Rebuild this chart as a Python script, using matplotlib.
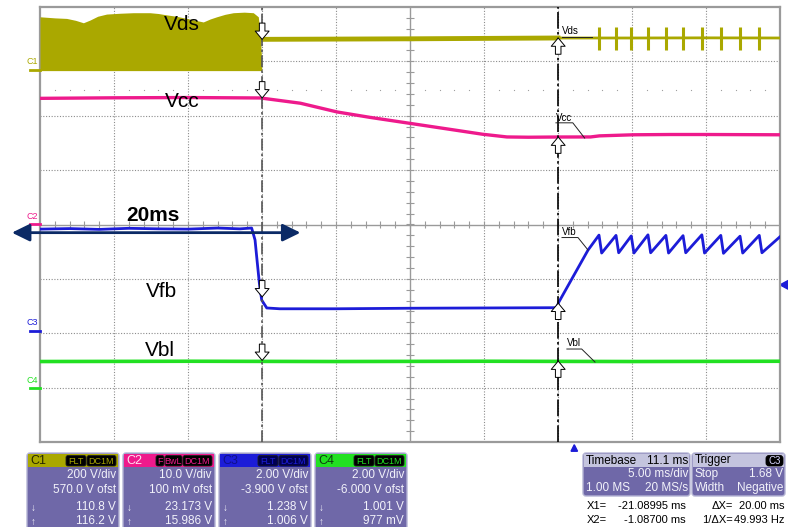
import numpy as np
import matplotlib
matplotlib.use('Agg')
import matplotlib.pyplot as plt
from matplotlib.patches import FancyBboxPatch, Rectangle, Polygon

plt.rcParams['font.family'] = ['Liberation Sans', 'DejaVu Sans']

# channel settings: V/div and offset (screen div = (V + ofst) / scale)
names = ['C1', 'C2', 'C3', 'C4']
scale = [200.0, 10.0, 2.0, 2.0]
ofst = [570.0, 0.1, -3.9, -6.0]
colors = ['#aaa800', '#ee1a8c', '#1c1cd8', '#22e022']

# timebase: 5 ms/div, 10 div, delay 11.1 ms
t_trig = 25 + 11.1
x1_rel = -21.08995
x2_rel = -1.08700
trig_level = 1.68

# Vds (C1) switching band before turn-off: top envelope [V]
vds_sw_t = [0, 1.0, 1.8, 2.4, 2.93, 3.38, 3.9, 4.5, 5.4, 6.3, 7.43, 8.0, 8.56, 9.2, 9.91, 10.5,
            11.03, 11.5, 11.94, 12.5, 13.06, 13.8, 14.41, 14.75, 14.91, 14.98]
vds_sw_top = [194, 190, 188, 181, 172, 182, 196, 204, 207, 209, 209, 206, 201, 196, 188, 181,
              175, 186, 194, 203, 209, 211, 209, 194, 108, 23]
vds_sw_bot = -4
# Vds after turn-off
vds_on_t = [14.7, 20, 25, 30, 35]
vds_on_v = [111, 112, 113, 114.5, 116]
vds_off_t = [35, 40, 45, 50]
vds_off_v = [116, 116, 116.5, 116]
spike_t = [37.77, 38.92, 39.95, 41.08, 42.29, 43.45, 44.72, 46.0, 47.30, 48.6]
spike_lo, spike_hi = 72, 156

# Vcc (C2)
vcc_t = [0, 5, 10, 14.9, 17.6, 20.07, 22.3, 25, 27.7, 29.9, 31.55, 33, 35, 37.2, 37.8, 40.1, 42.6, 45, 50]
vcc_v = [23.1, 23.2, 23.25, 23.17, 22.2, 20.6, 19.6, 18.5, 17.4, 16.5, 16.0, 15.95, 15.99, 16.0, 16.2, 16.4, 16.45, 16.45, 16.4]

# Vfb (C3)
vfb_t = [0, 2, 4, 6, 8, 10, 12, 13.5, 14.3, 14.53, 14.64, 14.82, 14.98, 15.32, 16.2, 20, 25, 30, 34.9,
         35.07, 37.03, 37.77, 37.95, 38.92, 39.1, 39.95, 40.13, 41.08, 41.26, 42.29, 42.47, 43.45, 43.63,
         44.72, 44.9, 46.0, 46.18, 47.3, 47.48, 48.6, 48.78, 50]
vfb_v = [3.73, 3.75, 3.72, 3.76, 3.74, 3.73, 3.77, 3.74, 3.77, 3.33, 2.72, 1.75, 1.12, 0.83, 0.80, 0.80, 0.82, 0.83, 0.84,
         1.06, 2.96, 3.51, 2.85, 3.50, 2.86, 3.48, 2.85, 3.52, 2.86, 3.50, 2.85, 3.49, 2.86,
         3.52, 2.85, 3.50, 2.84, 3.47, 2.85, 3.50, 2.86, 3.45]

# Vbl (C4)
vbl_t = [0, 10, 20, 30, 40, 50]
vbl_v = [0.96, 0.97, 0.96, 0.97, 0.96, 0.97]

# cursor readouts
cur1 = [110.8, 23.173, 1.238, 1.001]
cur2 = [116.2, 15.986, 1.006, 0.977]
cur1_txt = ['110.8 V', '23.173 V', '1.238 V', '1.001 V']
cur2_txt = ['116.2 V', '15.986 V', '1.006 V', '977 mV']
vdiv_txt = ['200 V/div', '10.0 V/div', '2.00 V/div', '2.00 V/div']
ofst_txt = ['570.0 V ofst', '100 mV ofst', '-3.900 V ofst', '-6.000 V ofst']
tags = [['FLT', 'DC1M'], ['F', 'BwL', 'DC1M'], ['FLT', 'DC1M'], ['FLT', 'DC1M']]


def div(i, v):
    return (np.asarray(v, dtype=float) + ofst[i]) / scale[i]


fig = plt.figure(figsize=(7.88, 5.27), dpi=100)
ax = fig.add_axes([40 / 788, 85 / 527, 740 / 788, 435 / 527])
ax.set_xlim(0, 50)
ax.set_ylim(-4, 4)
ax.set_xticks([])
ax.set_yticks([])
for s in ax.spines.values():
    s.set_color('#9a9a9a')
    s.set_linewidth(1.6)

# graticule
gc = '#8c8c8c'
for gx in range(5, 50, 5):
    if gx != 25:
        ax.axvline(gx, color=gc, lw=0.8, ls=(0, (1, 1.5)), zorder=1)
for gy in range(-3, 4):
    if gy != 0:
        ax.axhline(gy, color=gc, lw=0.8, ls=(0, (1, 1.5)), zorder=1)
ax.axhline(0, color='#9a9a9a', lw=1.0, zorder=1)
ax.axvline(25, color='#9a9a9a', lw=1.0, zorder=1)
ax.vlines(np.arange(1, 50), -0.06, 0.06, color='#9a9a9a', lw=0.8, zorder=1)
ax.hlines(np.arange(-3.8, 4, 0.2), 24.7, 25.3, color='#9a9a9a', lw=0.8, zorder=1)
dot_t = [t for t in range(1, 50) if t % 5]
ax.plot(dot_t, [2.48] * len(dot_t), ls='none', marker='s', ms=0.8, mew=0, color='#a0a0a0', zorder=1)

# traces
ax.fill_between(vds_sw_t, div(0, vds_sw_bot), div(0, vds_sw_top), color=colors[0], lw=0, zorder=3)
ax.plot(vds_on_t, div(0, vds_on_v), color=colors[0], lw=3.5, zorder=3)
ax.plot(vds_off_t, div(0, vds_off_v), color=colors[0], lw=2.0, zorder=3)
ax.vlines(spike_t, div(0, spike_lo), div(0, spike_hi), color=colors[0], lw=2.2, zorder=3)
ax.plot(vcc_t, div(1, vcc_v), color=colors[1], lw=2.4, zorder=3)
ax.plot(vfb_t, div(2, vfb_v), color=colors[2], lw=2.0, zorder=3)
ax.plot(vbl_t, div(3, vbl_v), color=colors[3], lw=2.6, zorder=3)

# cursors
x1 = t_trig + x1_rel
x2 = t_trig + x2_rel
ax.axvline(x1, color='#555555', lw=1.2, ls=(0, (7, 2, 1.5, 2)), zorder=4)
ax.axvline(x2, color='black', lw=1.2, ls=(0, (10, 2, 1.5, 2)), zorder=4)
astyle = 'simple,head_length=0.6,head_width=1.0,tail_width=0.4'
for i in range(4):
    y1 = float(div(i, cur1[i]))
    ax.annotate('', xy=(x1, y1), xytext=(x1, y1 + 0.3),
                arrowprops=dict(arrowstyle=astyle, fc='white', ec='black', lw=0.7,
                                mutation_scale=10, shrinkA=0, shrinkB=0), zorder=6)
    y2 = float(div(i, cur2[i]))
    ax.annotate('', xy=(x2, y2), xytext=(x2, y2 - 0.3),
                arrowprops=dict(arrowstyle=astyle, fc='white', ec='black', lw=0.7,
                                mutation_scale=10, shrinkA=0, shrinkB=0), zorder=6)

# small cursor labels with leaders
small = [('Vds', 35.27, 3.55, 36.4, 3.45, 37.3, 3.45),
         ('Vcc', 34.86, 1.96, 36.0, 1.87, 36.8, 1.59),
         ('Vfb', 35.27, -0.14, 36.35, -0.24, 37.03, -0.47),
         ('Vbl', 35.6, -2.18, 36.6, -2.29, 37.5, -2.53)]
for lab, tx, ty, ux, uy, lx, ly in small:
    ax.text(tx, ty, lab, fontsize=7, ha='left', va='center', zorder=7)
    ax.plot([tx, ux, lx], [uy, uy, ly], color='#222222', lw=0.7, zorder=7)

# big labels
ax.text(9.6, 3.67, 'Vds', fontsize=15, ha='center', va='center', zorder=7)
ax.text(9.6, 2.26, 'Vcc', fontsize=15, ha='center', va='center', zorder=7)
ax.text(7.64, 0.16, '20ms', fontsize=15, fontweight='bold', ha='center', va='center', zorder=7)
ax.text(8.18, -1.24, 'Vfb', fontsize=15, ha='center', va='center', zorder=7)
ax.text(8.1, -2.31, 'Vbl', fontsize=15, ha='center', va='center', zorder=7)
ax.annotate('', xy=(-1.9, -0.15), xytext=(17.6, -0.15), annotation_clip=False,
            arrowprops=dict(arrowstyle='<|-|>,head_length=0.45,head_width=0.22', color='#0b2a66',
                            lw=2, mutation_scale=24, shrinkA=0, shrinkB=0, clip_on=False), zorder=8)

# channel ground markers
for i in range(4):
    g = ofst[i] / scale[i]
    ax.plot([-0.68, 0], [g, g], color=colors[i], lw=2, clip_on=False, zorder=5)
    ax.text(-0.55, g + 0.14, names[i], fontsize=6.5, color=colors[i], ha='center', va='center')

# trigger markers
tl = (trig_level + ofst[2]) / scale[2]
ax.add_patch(Polygon([[50, tl], [50.55, tl + 0.08], [50.55, tl - 0.08]], closed=True,
                     color=colors[2], clip_on=False))
ax.add_patch(Polygon([[t_trig, -4.05], [t_trig - 0.22, -4.17], [t_trig + 0.22, -4.17]], closed=True,
                     color=colors[2], clip_on=False))

# readout panels (pixel coordinates)
ov = fig.add_axes([0, 0, 1, 1], zorder=10)
ov.set_xlim(0, 788)
ov.set_ylim(527, 0)
ov.axis('off')
ov.patch.set_alpha(0)
purple = '#6f68a8'
txtc = '#f2f2fa'
tag_w = {'FLT': 21, 'DC1M': 30, 'F': 9, 'BwL': 18}
head_txt = ['#262600', '#ffe0f0', '#10108a', '#0e3a0e']
tag_bg = ['black', 'black', '#000050', 'black']
px0 = [27, 123, 219, 315]
for i in range(4):
    x0 = px0[i]
    ov.add_patch(FancyBboxPatch((x0, 453), 92, 80, boxstyle='round,pad=0,rounding_size=3',
                                fc=purple, ec='#b4b4d4', lw=1))
    ov.add_patch(Rectangle((x0 + 1, 454), 90, 13, fc=colors[i], ec='none'))
    ov.text(x0 + 3, 461, names[i], fontsize=9, color=head_txt[i], va='center', ha='left')
    xr = x0 + 90
    for tg in reversed(tags[i]):
        w = tag_w[tg]
        ov.add_patch(FancyBboxPatch((xr - w, 455.5), w - 1, 10.5,
                                    boxstyle='round,pad=0,rounding_size=2',
                                    fc=tag_bg[i], ec='#202020', lw=0.6))
        ov.text(xr - w / 2 - 0.5, 461, tg, fontsize=6.5, color=colors[i], ha='center', va='center')
        xr -= w
    ov.text(x0 + 89, 475, vdiv_txt[i], fontsize=8.5, color=txtc, ha='right', va='center')
    ov.text(x0 + 89, 490, ofst_txt[i], fontsize=8.5, color=txtc, ha='right', va='center')
    ov.text(x0 + 89, 507, cur1_txt[i], fontsize=8.5, color=txtc, ha='right', va='center')
    ov.text(x0 + 89, 521, cur2_txt[i], fontsize=8.5, color=txtc, ha='right', va='center')
    ov.text(x0 + 4, 508, '\u2193', fontsize=7, color=txtc, ha='left', va='center')
    ov.text(x0 + 4, 522, '\u2191', fontsize=7, color=txtc, ha='left', va='center')

# timebase / trigger boxes
for x0, w in [(583, 107), (692, 93)]:
    ov.add_patch(FancyBboxPatch((x0, 453), w, 43, boxstyle='round,pad=0,rounding_size=3',
                                fc=purple, ec='#b4b4d4', lw=1))
    ov.add_patch(Rectangle((x0 + 1, 454), w - 2, 13, fc='#c4c4de', ec='none'))
ov.text(586, 460.5, 'Timebase', fontsize=8.5, ha='left', va='center')
ov.text(688, 460.5, '11.1 ms', fontsize=8.5, ha='right', va='center')
ov.text(688, 474, '5.00 ms/div', fontsize=8.5, color=txtc, ha='right', va='center')
ov.text(586, 488, '1.00 MS', fontsize=8.5, color=txtc, ha='left', va='center')
ov.text(688, 488, '20 MS/s', fontsize=8.5, color=txtc, ha='right', va='center')
ov.text(695, 460.5, 'Trigger', fontsize=8.5, ha='left', va='center')
ov.add_patch(FancyBboxPatch((766, 455.5), 17, 10.5, boxstyle='round,pad=0,rounding_size=3',
                            fc='black', ec='black', lw=0.6))
ov.text(774.5, 461, 'C3', fontsize=7, color='#d8d8ff', ha='center', va='center')
ov.text(695, 474, 'Stop', fontsize=8.5, color=txtc, ha='left', va='center')
ov.text(783, 474, '1.68 V', fontsize=8.5, color=txtc, ha='right', va='center')
ov.text(695, 488, 'Width', fontsize=8.5, color=txtc, ha='left', va='center')
ov.text(783, 488, 'Negative', fontsize=8.5, color=txtc, ha='right', va='center')

# cursor readout text
fs = 8
ov.text(587, 506, 'X1=', fontsize=fs, ha='left', va='center')
ov.text(686, 506, '-21.08995 ms', fontsize=fs, ha='right', va='center')
ov.text(733, 506, '\u0394X=', fontsize=fs, ha='right', va='center')
ov.text(785, 506, '20.00 ms', fontsize=fs, ha='right', va='center')
ov.text(587, 520, 'X2=', fontsize=fs, ha='left', va='center')
ov.text(686, 520, '-1.08700 ms', fontsize=fs, ha='right', va='center')
ov.text(733, 520, '1/\u0394X=', fontsize=fs, ha='right', va='center')
ov.text(785, 520, '49.993 Hz', fontsize=fs, ha='right', va='center')

fig.savefig('out.png', dpi=100, facecolor='white')
